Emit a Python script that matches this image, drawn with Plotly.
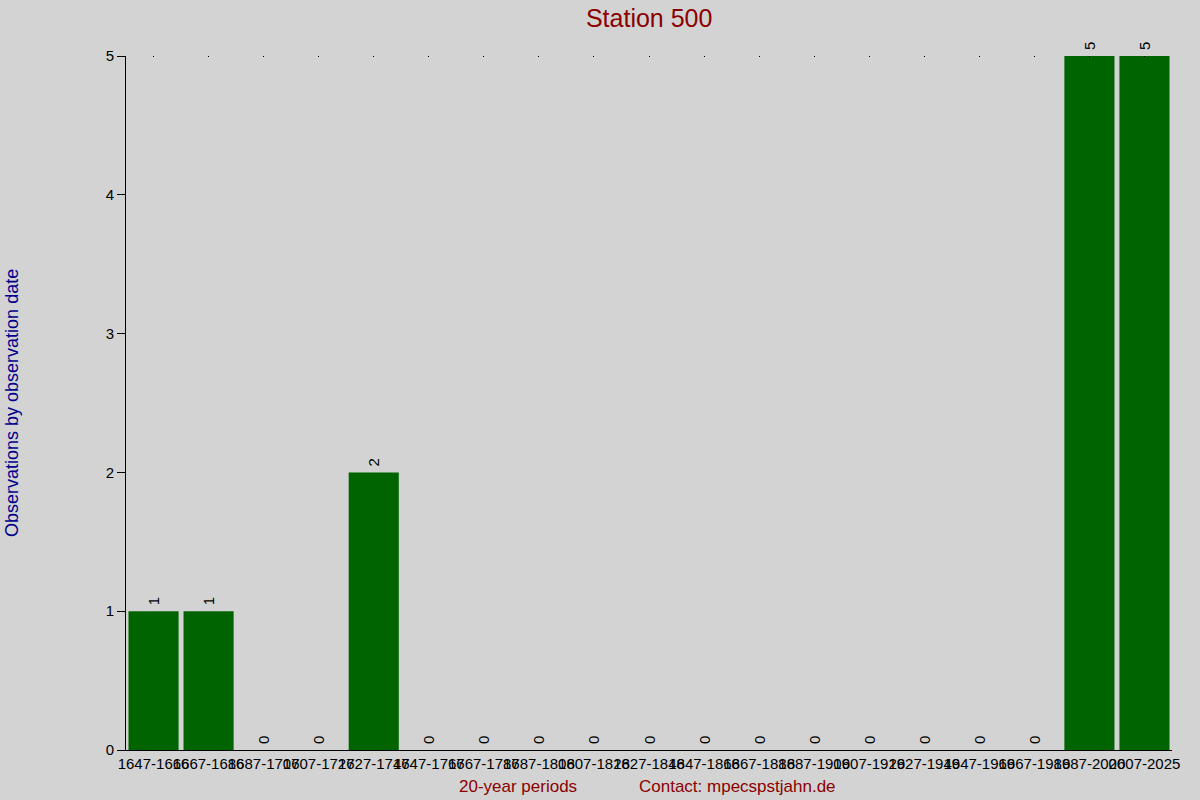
import plotly.graph_objects as go

periods = ["1647-1666", "1667-1686", "1687-1706", "1707-1726", "1727-1746",
           "1747-1766", "1767-1786", "1787-1806", "1807-1826", "1827-1846",
           "1847-1866", "1867-1886", "1887-1906", "1907-1926", "1927-1946",
           "1947-1966", "1967-1986", "1987-2006", "2007-2025"]
counts = [1, 1, 0, 0, 2, 0, 0, 0, 0, 0, 0, 0, 0, 0, 0, 0, 0, 5, 5]
y_ticks = [0, 1, 2, 3, 4, 5]

fig = go.Figure()
fig.add_trace(go.Bar(
    x=periods, y=counts, marker=dict(color="#006400", line=dict(width=0)),
    # thin space in front lifts the rotated label a little off the bar
    text=["\u2009" + str(c) for c in counts], textposition="outside", textangle=-90,
    cliponaxis=False, constraintext="none", textfont=dict(size=15, color="black"),
    showlegend=False,
))
# tiny tick dots along the top edge
fig.add_trace(go.Scatter(x=periods, y=[None] * len(periods), xaxis="x2",
                         showlegend=False, hoverinfo="skip"))

fig.update_layout(
    width=1200, height=800,
    paper_bgcolor="#D3D3D3", plot_bgcolor="#D3D3D3",
    font=dict(family="Liberation Sans, Arial, sans-serif", color="black"),
    margin=dict(l=126, r=28, t=56, b=50),
    bargap=0.09,
    title=dict(text="Station 500", x=0.541, xanchor="center", y=0.977, yanchor="middle",
               font=dict(size=25, color="#8B0000")),
    xaxis=dict(type="category", showline=True, linecolor="black", linewidth=1,
               ticks="", showgrid=False, tickangle=0, tickfont=dict(size=15),
               range=[-0.5, len(periods) - 0.5], automargin=False),
    xaxis2=dict(type="category", overlaying="x", side="top", matches="x",
                showline=False, ticks="inside", ticklen=1, tickwidth=1,
                tickcolor="black", showticklabels=False, showgrid=False),
    yaxis=dict(range=[0, 5], tickvals=y_ticks, showline=True, linecolor="black",
               linewidth=1, ticks="outside", ticklen=8, tickcolor="black",
               showgrid=False, zeroline=False, tickfont=dict(size=15),
               automargin=False),
    annotations=[
        dict(text="Observations by observation date", xref="paper", yref="paper",
             x=-0.109, y=0.5, xanchor="center", yanchor="middle", textangle=-90,
             showarrow=False, font=dict(size=18, color="#00008B")),
        dict(text="20-year periods", xref="paper", yref="paper", x=0.375, y=-0.052,
             xanchor="center", yanchor="middle", showarrow=False,
             font=dict(size=17, color="#8B0000")),
        dict(text="Contact: mpecspstjahn.de", xref="paper", yref="paper", x=0.585, y=-0.052,
             xanchor="center", yanchor="middle", showarrow=False,
             font=dict(size=17, color="#8B0000")),
    ],
)

fig.write_html("out.html", config={"displayModeBar": False},
               post_script="document.body.style.margin='0';")
